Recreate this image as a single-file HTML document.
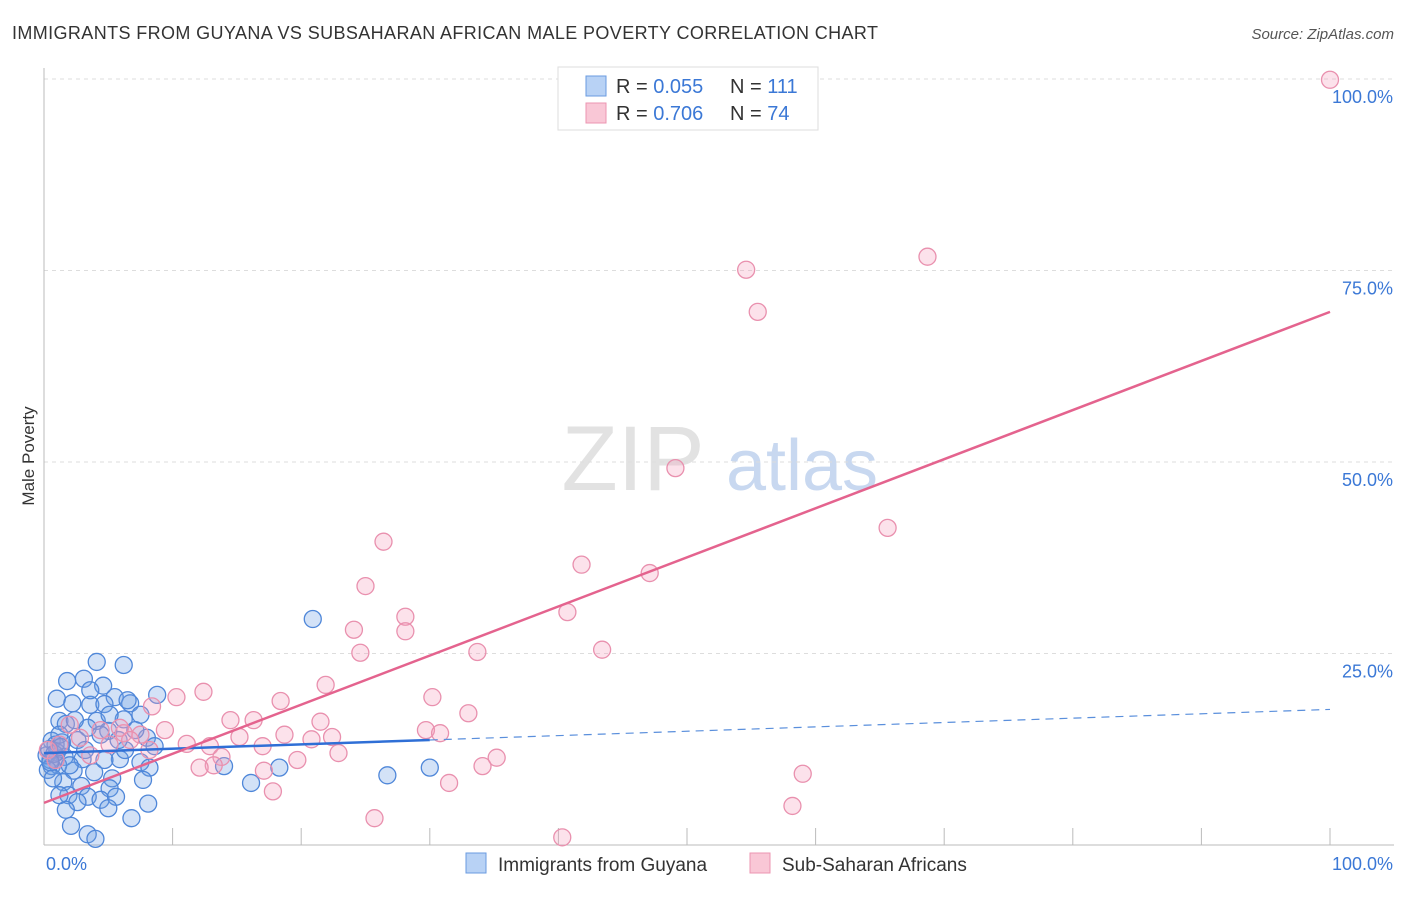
<!DOCTYPE html>
<html><head><meta charset="utf-8"><style>
body{margin:0;background:#fff;font-family:"Liberation Sans",sans-serif;}
svg text{font-family:"Liberation Sans",sans-serif;}
</style></head><body>
<svg id="c" width="1406" height="892">
<text x="12" y="39" font-size="18" fill="#333" textLength="866" lengthAdjust="spacing">IMMIGRANTS FROM GUYANA VS SUBSAHARAN AFRICAN MALE POVERTY CORRELATION CHART</text>
<text x="1394" y="39" font-size="15" fill="#555" font-style="italic" text-anchor="end">Source: ZipAtlas.com</text>
<text x="34" y="456" font-size="17" fill="#333" transform="rotate(-90 34 456)" text-anchor="middle">Male Poverty</text>
<g><text x="633" y="490" font-size="92" fill="#e2e2e2" font-family="Liberation Serif" text-anchor="middle">ZIP</text><text x="802" y="490" font-size="72" fill="#c8d8f0" text-anchor="middle">atlas</text></g>
<g id="grid"></g><g id="marks"></g>
<g>
<rect x="558" y="67" width="260" height="63" fill="#fff" stroke="#ddd"/>
<rect x="586" y="76" width="20" height="20" fill="#b8d2f5" stroke="#6a9be0"/>
<rect x="586" y="103" width="20" height="20" fill="#f9c7d6" stroke="#ec95b1"/>
<text x="616" y="93" font-size="20" fill="#333">R = <tspan fill="#3b78d6">0.055</tspan></text>
<text x="730" y="93" font-size="20" fill="#333">N = <tspan fill="#3b78d6">111</tspan></text>
<text x="616" y="120" font-size="20" fill="#333">R = <tspan fill="#3b78d6">0.706</tspan></text>
<text x="730" y="120" font-size="20" fill="#333">N = <tspan fill="#3b78d6">74</tspan></text>
</g>
<g>
<rect x="466" y="853" width="20" height="20" fill="#b8d2f5" stroke="#6a9be0"/>
<text x="498" y="871" font-size="19" fill="#333">Immigrants from Guyana</text>
<rect x="750" y="853" width="20" height="20" fill="#f9c7d6" stroke="#ec95b1"/>
<text x="782" y="871" font-size="19" fill="#333">Sub-Saharan Africans</text>
</g>
</svg>
<script>
const yTicks=[25,50,75,100];
const yTickLabels=["25.0%","50.0%","75.0%","100.0%"];
const xTickVals=[0,10,20,30,40,50,60,70,80,90,100];
const blueX=[4.1,6.2,1.8,3.1,4.6,1.0,5.5,6.7,8.8,2.2,3.6,4.7,7.5,6.2,4.1,1.2,1.7,3.4,5.0,0.6,1.4,2.6,4.4,8.0,8.6,1.0,1.6,3.0,5.9,7.5,0.6,2.3,3.9,5.3,8.2,1.5,2.9,5.1,7.7,1.9,3.4,4.4,5.6,2.6,5.0,8.1,2.1,6.8,3.4,4.0,20.9,14.0,16.1,18.3,26.7,30.0,0.5,0.9,0.2,1.1,2.0,1.2,3.2,6.3,7.1,2.4,3.6,5.1,0.3,0.7,1.7,1.2,6.5,5.8,4.7,0.4,0.8,1.3,0.5];
const blueY=[23.9,23.5,21.4,21.7,20.8,19.1,19.3,18.5,19.6,18.5,18.3,18.4,17.0,16.4,16.2,16.2,15.8,15.3,14.9,13.6,13.4,13.7,14.4,14.0,12.9,12.1,11.5,11.2,11.2,10.8,10.3,9.7,9.5,8.7,10.1,8.2,7.7,7.4,8.5,6.5,6.3,5.9,6.3,5.6,4.8,5.4,2.5,3.5,1.4,0.8,29.5,10.3,8.1,10.1,9.1,10.1,11.1,13.1,11.7,10.4,10.4,14.4,12.4,12.4,15.0,16.3,20.2,17.0,9.8,8.7,4.6,6.5,18.9,13.7,11.1,12.5,11.9,12.8,10.8];
const pinkX=[100,54.6,68.7,55.5,49.1,65.6,26.4,41.8,47.1,25.0,40.7,28.1,28.1,24.1,43.4,33.7,24.6,21.9,30.2,18.4,12.4,10.3,8.4,33.0,14.5,16.3,21.5,9.4,6.2,7.5,18.7,20.8,22.4,29.7,30.8,15.2,11.1,12.9,17.0,22.9,35.2,13.8,19.7,13.2,12.1,34.1,17.1,59.0,17.8,31.5,58.2,25.7,40.3,4.4,2.8,1.2,2.0,5.1,0.9,3.6,5.9,6.7,0.3,8.2];
const pinkY=[99.9,75.1,76.8,69.6,49.2,41.4,39.6,36.6,35.5,33.8,30.4,29.8,27.9,28.1,25.5,25.2,25.1,20.9,19.3,18.8,20.0,19.3,18.1,17.2,16.3,16.3,16.1,15.0,14.6,14.4,14.4,13.8,14.1,15.0,14.6,14.1,13.2,12.9,12.9,12.0,11.4,11.5,11.1,10.4,10.1,10.3,9.7,9.3,7.0,8.1,5.1,3.5,1.0,15.0,14.0,13.1,15.7,13.1,11.1,11.7,15.3,13.7,12.4,12.4];
const blueFit=[12.0,17.7];
const pinkFit=[5.5,69.6];
const X=v=>44+v*12.86, Y=v=>845-v*7.66;
const NS="http://www.w3.org/2000/svg";
const g=document.getElementById('grid'), m=document.getElementById('marks');
function mk(tag,attrs,parent){const e=document.createElementNS(NS,tag);for(const k in attrs)e.setAttribute(k,attrs[k]);parent.appendChild(e);return e;}
yTicks.forEach((t,i)=>{
 const l=mk('line',{x1:44,x2:1394,y1:Y(t),y2:Y(t),stroke:'#ddd','stroke-dasharray':'4 4'},g);
 
 
 const tx=mk('text',{x:1393,y:Y(t)+24,'font-size':18,fill:'#3b78d6','text-anchor':'end'},g);
 tx.textContent=yTickLabels[i];
 
 
});
const ax=mk('line',{x1:44,x2:44,y1:68,y2:845,stroke:'#bbb'},g);


const bx=mk('line',{x1:44,x2:1394,y1:845,y2:845,stroke:'#bbb'},g);


xTickVals.forEach(t=>{
 const l=mk('line',{x1:X(t),x2:X(t),y1:828,y2:845,stroke:'#bbb'},g);
 
 
});
const xl0=mk('text',{x:46,y:870,'font-size':18,fill:'#3b78d6'},g);xl0.textContent='0.0%';


const xl1=mk('text',{x:1393,y:870,'font-size':18,fill:'#3b78d6','text-anchor':'end'},g);xl1.textContent='100.0%';


blueX.forEach((v,i)=>{
 const c=mk('circle',{cx:X(v),cy:Y(blueY[i]),r:8.5,fill:'rgba(110,160,230,0.3)',stroke:'#4f87d9','stroke-width':1.3},m);
 
 
});
pinkX.forEach((v,i)=>{
 const c=mk('circle',{cx:X(v),cy:Y(pinkY[i]),r:8.5,fill:'rgba(245,160,190,0.3)',stroke:'#e990ae','stroke-width':1.3},m);
 
 
});
const bf=v=>blueFit[0]+(blueFit[1]-blueFit[0])*v/100;
const b1=mk('line',{x1:X(0),y1:Y(bf(0)),x2:X(30),y2:Y(bf(30)),stroke:'#2f6fd6','stroke-width':2.5},m);


const b2=mk('line',{x1:X(30),y1:Y(bf(30)),x2:X(100),y2:Y(bf(100)),stroke:'#5a8fdc','stroke-width':1.2,'stroke-dasharray':'8 6'},m);


const p1=mk('line',{x1:X(0),y1:Y(pinkFit[0]),x2:X(100),y2:Y(pinkFit[1]),stroke:'#e4638e','stroke-width':2.5},m);


</script>
</body></html>
